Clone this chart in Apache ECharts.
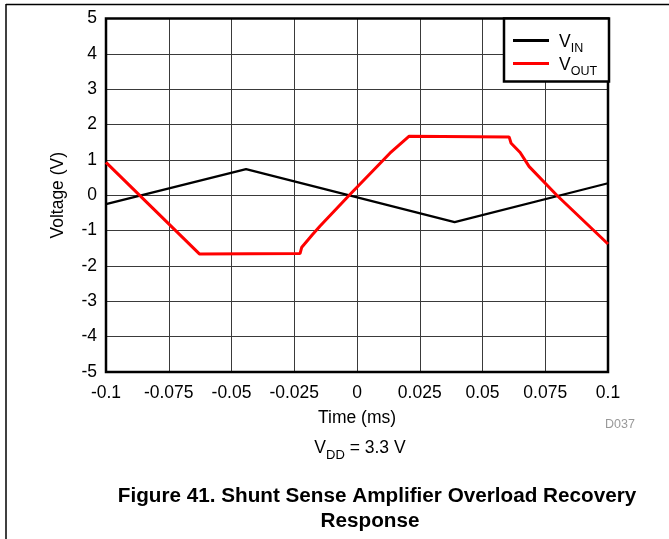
<!DOCTYPE html>
<html>
<head>
<meta charset="utf-8">
<script src="https://cdn.jsdelivr.net/npm/echarts@6/dist/echarts.min.js"></script>
<style>
html,body{margin:0;padding:0;background:#fff;}
#c{width:669px;height:539px;}
</style>
</head>
<body>
<div id="c"></div>
<script>
// ---- data ----
const xTickLabels = ['-0.1','-0.075','-0.05','-0.025','0','0.025','0.05','0.075','0.1'];
const yTickLabels = ['-5','-4','-3','-2','-1','0','1','2','3','4','5'];

const vinTime  = [-0.1, -0.0442, 0.0389, 0.1];
const vinValue = [-0.25, 0.74, -0.76, 0.34];

const voutTime  = [-0.1, -0.0628, -0.0227, -0.0220, -0.0178, -0.0147, -0.0031, 0.0131, 0.0208, 0.0606, 0.0614, 0.0650, 0.0686, 0.0796, 0.1];
const voutValue = [0.93, -1.66, -1.65, -1.47, -1.12, -0.87, 0.0, 1.19, 1.67, 1.65, 1.47, 1.21, 0.81, 0.0, -1.38];

const seriesNames = ['VIN', 'VOUT'];

const font = 'Liberation Sans, Arial, sans-serif';

const pairs = (xs, ys) => xs.map((x, i) => [x, ys[i]]);

const chart = echarts.init(document.getElementById('c'), null, {renderer: 'canvas'});

chart.setOption({
  animation: false,
  backgroundColor: '#fff',
  textStyle: {fontFamily: font},
  grid: {
    left: 106, top: 18.5, right: 61, bottom: 167,
    show: true, borderColor: '#000', borderWidth: 2.5, backgroundColor: 'transparent', z: 3
  },
  xAxis: {
    type: 'value', min: -0.1, max: 0.1, interval: 0.025,
    name: 'Time (ms)', nameLocation: 'middle', nameGap: 37,
    nameTextStyle: {fontSize: 17.5, color: '#000', fontFamily: font},
    axisLine: {show: false},
    axisTick: {show: false},
    axisLabel: {
      fontSize: 17.5, color: '#000', margin: 12, fontFamily: font,
      formatter: v => xTickLabels[Math.round((v + 0.1) / 0.025)]
    },
    splitLine: {show: true, lineStyle: {color: '#3a3a3a', width: 1}}
  },
  yAxis: {
    type: 'value', min: -5, max: 5, interval: 1,
    name: 'Voltage (V)', nameLocation: 'middle', nameGap: 39,
    nameTextStyle: {fontSize: 17.5, color: '#000', fontFamily: font},
    axisLine: {show: false},
    axisTick: {show: false},
    axisLabel: {
      fontSize: 17.5, color: '#000', margin: 9, fontFamily: font,
      formatter: v => yTickLabels[Math.round(v + 5)]
    },
    splitLine: {show: true, lineStyle: {color: '#3a3a3a', width: 1}}
  },
  legend: {
    orient: 'vertical', left: 508, top: 28, z: 100,
    itemWidth: 36, itemHeight: 3, itemGap: 1, icon: 'rect',
    data: seriesNames,
    formatter: n => '{v|V}{s|' + n.slice(1) + '}',
    textStyle: {
      fontFamily: font, color: '#000',
      rich: {
        v: {fontSize: 17.5, fontFamily: font, color: '#000', padding: [0, 0, 0, 5], lineHeight: 21, verticalAlign: 'bottom'},
        s: {fontSize: 12.5, fontFamily: font, color: '#000', lineHeight: 21, verticalAlign: 'bottom', padding: [0, 0, -4, 0]}
      }
    }
  },
  graphic: [
    {type: 'line', shape: {x1: 6, y1: 4.5, x2: 669, y2: 4.5}, style: {stroke: '#000', lineWidth: 1.5}, z: 1},
    {type: 'line', shape: {x1: 6, y1: 4, x2: 6, y2: 539}, style: {stroke: '#000', lineWidth: 1.5}, z: 1},
    {type: 'rect', shape: {x: 504, y: 18.5, width: 105, height: 63}, style: {fill: '#fff', stroke: '#000', lineWidth: 2.5}, z: 50},
    {type: 'text', left: 605, top: 418, style: {text: 'D037', fill: '#999', font: '12.5px ' + font}, z: 5},
    {type: 'text', x: 360, y: 446, style: {
      text: '{v|V}{s|DD}{v| = 3.3 V}', textAlign: 'center', textVerticalAlign: 'middle',
      rich: {
        v: {fontSize: 17.5, fontFamily: font, fill: '#000', color: '#000', lineHeight: 22, verticalAlign: 'bottom'},
        s: {fontSize: 13, fontFamily: font, fill: '#000', color: '#000', lineHeight: 22, verticalAlign: 'bottom', padding: [0, 0, -5, 0]}
      }
    }, z: 5},
    {type: 'text', x: 377, y: 496, style: {text: 'Figure 41. Shunt Sense Amplifier Overload Recovery', textAlign: 'center', textVerticalAlign: 'middle', fill: '#000', font: 'bold 20.7px ' + font}, z: 5},
    {type: 'text', x: 370, y: 521, style: {text: 'Response', textAlign: 'center', textVerticalAlign: 'middle', fill: '#000', font: 'bold 20.7px ' + font}, z: 5}
  ],
  series: [
    {
      name: seriesNames[0], type: 'line', data: pairs(vinTime, vinValue),
      showSymbol: false, symbol: 'none', color: '#000',
      lineStyle: {color: '#000', width: 2.2}, z: 10
    },
    {
      name: seriesNames[1], type: 'line', data: pairs(voutTime, voutValue),
      showSymbol: false, symbol: 'none', color: '#ff0000',
      lineStyle: {color: '#ff0000', width: 3}, z: 11
    }
  ]
});
</script>
</body>
</html>
